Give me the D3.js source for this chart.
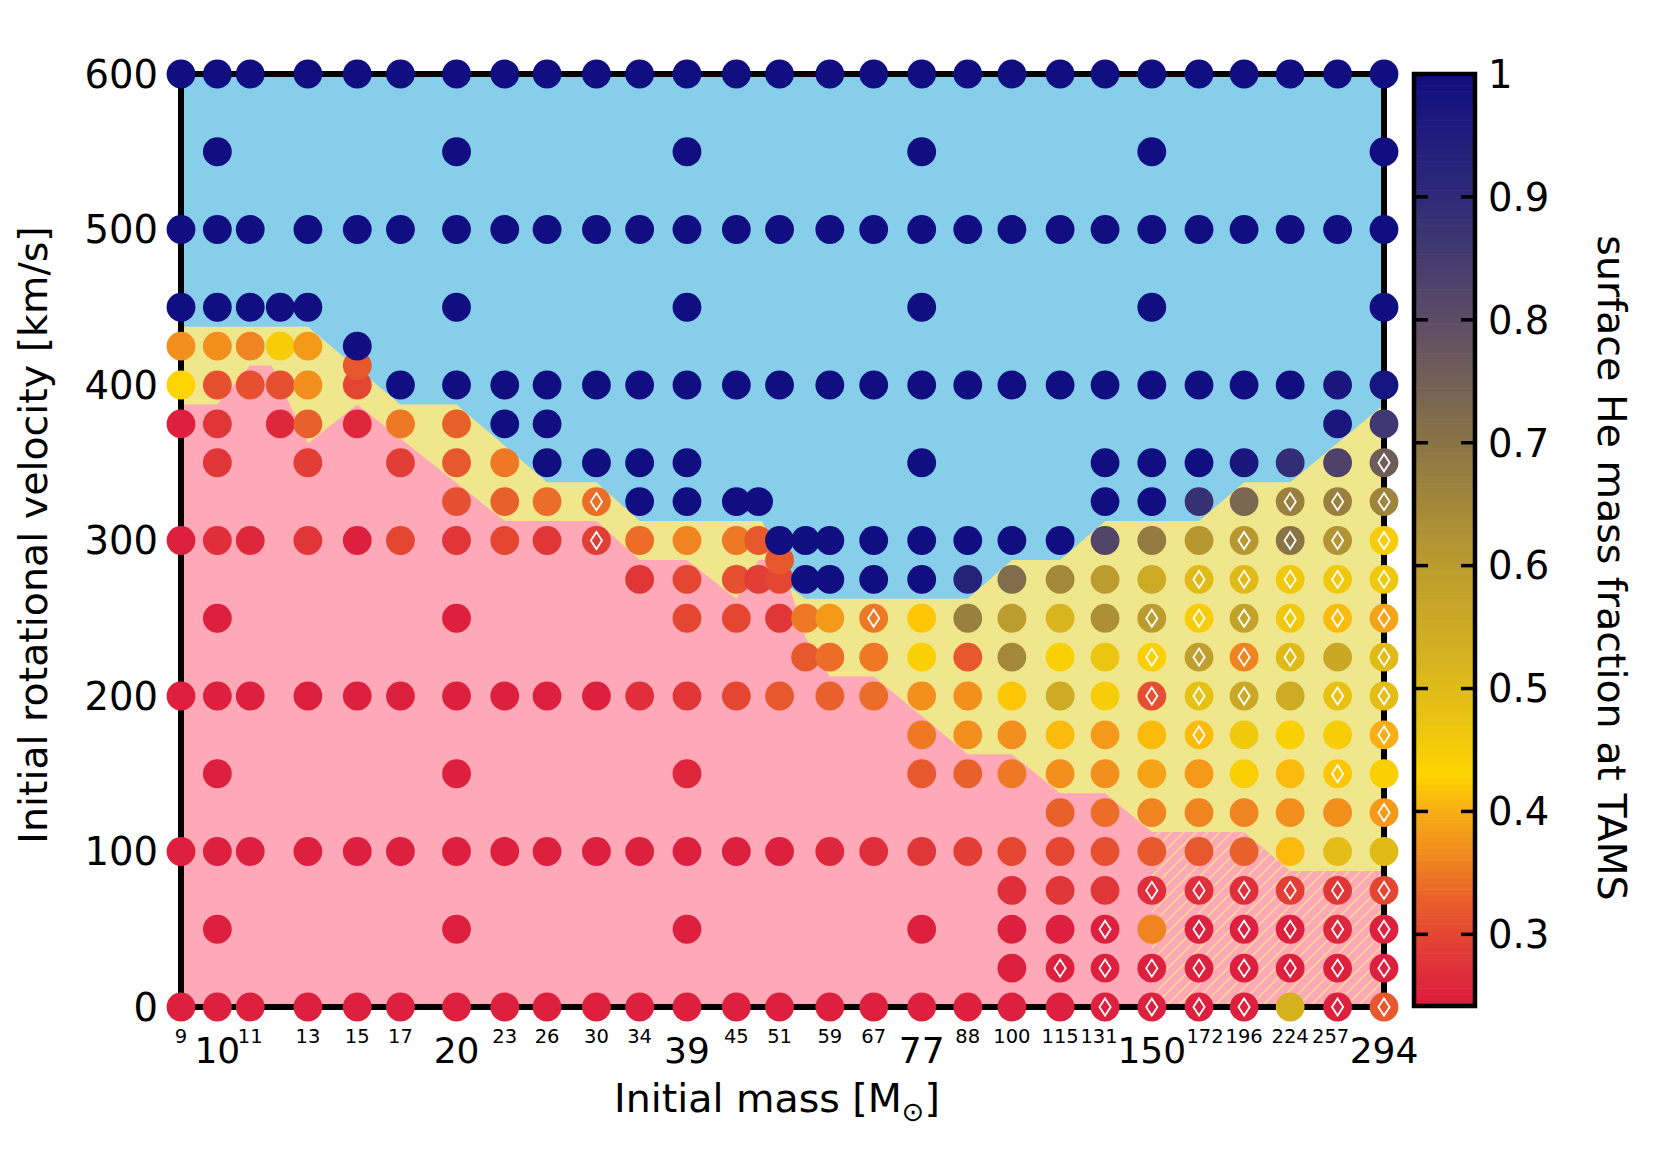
<!DOCTYPE html>
<html><head><meta charset="utf-8">
<script src="https://cdn.jsdelivr.net/npm/d3@7"></script>
<style>
body{margin:0;background:#fff}
svg{display:block}
text{font-family:"DejaVu Sans",sans-serif;fill:#000}
</style>
</head><body>
<svg id="chart" width="1661" height="1163"></svg>
<script>
// ---------------- data ----------------
const massMajorTicks = [10,20,39,77,150,294];
const massMinorTicks = [9,11,13,15,17,23,26,30,34,45,51,59,67,88,100,115,131,172,196,224,257];
const velocityTicks = [0,100,200,300,400,500,600];
const colorbarTicks = [0.3,0.4,0.5,0.6,0.7,0.8,0.9,1];
const colorbarTickLabels = ["0.3","0.4","0.5","0.6","0.7","0.8","0.9","1"];

// surface He mass fraction at TAMS, one array per initial velocity row: [mass, Y_He]
const he0   = [[9,.25],[10,.25],[11,.25],[13,.25],[15,.25],[17,.25],[20,.25],[23,.25],[26,.25],[30,.25],[34,.25],[39,.25],[45,.25],[51,.25],[59,.25],[67,.25],[77,.25],[88,.25],[100,.25],[115,.25],[131,.25],[150,.25],[172,.25],[196,.25],[224,.53],[257,.25],[294,.32]];
const he25  = [[100,.25],[115,.25],[131,.25],[150,.25],[172,.25],[196,.25],[224,.25],[257,.25],[294,.25]];
const he50  = [[10,.25],[20,.25],[39,.25],[77,.25],[100,.25],[115,.25],[131,.25],[150,.36],[172,.25],[196,.25],[224,.25],[257,.26],[294,.25]];
const he75  = [[100,.27],[115,.28],[131,.28],[150,.27],[172,.27],[196,.27],[224,.29],[257,.28],[294,.3]];
const he100 = [[9,.25],[10,.25],[11,.25],[13,.25],[15,.25],[17,.25],[20,.25],[23,.25],[26,.25],[30,.25],[34,.25],[39,.25],[45,.25],[51,.25],[59,.26],[67,.27],[77,.28],[88,.29],[100,.3],[115,.3],[131,.31],[150,.32],[172,.32],[196,.33],[224,.41],[257,.49],[294,.5]];
const he125 = [[115,.33],[131,.34],[150,.36],[172,.36],[196,.36],[224,.37],[257,.37],[294,.38]];
const he150 = [[10,.25],[20,.25],[39,.26],[77,.32],[88,.33],[100,.35],[115,.37],[131,.37],[150,.39],[172,.38],[196,.44],[224,.41],[257,.42],[294,.44]];
const he175 = [[77,.35],[88,.37],[100,.37],[115,.41],[131,.38],[150,.41],[172,.41],[196,.46],[224,.44],[257,.45],[294,.4]];
const he200 = [[9,.25],[10,.25],[11,.25],[13,.25],[15,.25],[17,.25],[20,.25],[23,.25],[26,.25],[30,.25],[34,.27],[39,.28],[45,.3],[51,.32],[59,.33],[67,.34],[77,.37],[88,.37],[100,.42],[115,.55],[131,.45],[150,.31],[172,.48],[196,.56],[224,.55],[257,.48],[294,.49]];
const he225 = [[55,.32],[59,.34],[67,.35],[77,.44],[88,.32],[100,.65],[115,.44],[131,.47],[150,.44],[172,.59],[196,.36],[224,.5],[257,.56],[294,.5]];
const he250 = [[10,.25],[20,.25],[39,.3],[45,.3],[51,.28],[55,.35],[59,.38],[67,.35],[77,.42],[88,.67],[100,.6],[115,.52],[131,.63],[150,.6],[172,.45],[196,.58],[224,.46],[257,.41],[294,.39]];
const he275 = [[34,.28],[39,.3],[45,.31],[48,.29],[51,.3],[55,1],[59,1],[67,1],[77,1],[88,.93],[100,.72],[115,.65],[131,.6],[150,.55],[172,.5],[196,.5],[224,.46],[257,.46],[294,.46]];
const he288 = [[51,.32]];
const he300 = [[9,.25],[10,.27],[11,.26],[13,.28],[15,.25],[17,.3],[20,.28],[23,.3],[26,.28],[30,.29],[34,.34],[39,.36],[45,.35],[48,.32],[51,1],[55,1],[59,1],[67,1],[77,1],[88,1],[100,1],[115,1],[131,.82],[150,.68],[172,.61],[196,.61],[224,.7],[257,.62],[294,.45]];
const he325 = [[20,.31],[23,.33],[26,.34],[30,.34],[34,1],[39,1],[45,1],[48,1],[131,1],[150,1],[172,.88],[196,.73],[224,.67],[257,.67],[294,.66]];
const he350 = [[10,.28],[13,.29],[17,.29],[20,.32],[23,.35],[26,1],[30,1],[34,1],[39,1],[77,1],[131,1],[150,1],[172,1],[196,.97],[224,.89],[257,.83],[294,.76]];
const he375 = [[9,.25],[10,.28],[12,.26],[13,.33],[15,.26],[17,.35],[20,.33],[23,1],[26,1],[257,.97],[294,.86]];
const he400 = [[9,.43],[10,.31],[11,.31],[12,.31],[13,.37],[15,.3],[17,1],[20,1],[23,1],[26,1],[30,1],[34,1],[39,1],[45,1],[51,1],[59,1],[67,1],[77,1],[88,1],[100,1],[115,1],[131,1],[150,1],[172,1],[196,1],[224,1],[257,.97],[294,.98]];
const he413 = [[15,.32]];
const he425 = [[9,.37],[10,.37],[11,.36],[12,.45],[13,.38],[15,1]];
const he450 = [[9,1],[10,1],[11,1],[12,1],[13,1],[20,1],[39,1],[77,1],[150,1],[294,1]];
const he500 = [[9,1],[10,1],[11,1],[13,1],[15,1],[17,1],[20,1],[23,1],[26,1],[30,1],[34,1],[39,1],[45,1],[51,1],[59,1],[67,1],[77,1],[88,1],[100,1],[115,1],[131,1],[150,1],[172,1],[196,1],[224,1],[257,1],[294,1]];
const he550 = [[10,1],[20,1],[39,1],[77,1],[150,1],[294,1]];
const he600 = [[9,1],[10,1],[11,1],[13,1],[15,1],[17,1],[20,1],[23,1],[26,1],[30,1],[34,1],[39,1],[45,1],[51,1],[59,1],[67,1],[77,1],[88,1],[100,1],[115,1],[131,1],[150,1],[172,1],[196,1],[224,1],[257,1],[294,1]];

const velocityRows = [
  [0,he0],[25,he25],[50,he50],[75,he75],[100,he100],[125,he125],[150,he150],[175,he175],
  [200,he200],[225,he225],[250,he250],[275,he275],[287.5,he288],[300,he300],[325,he325],
  [350,he350],[375,he375],[400,he400],[412.5,he413],[425,he425],[450,he450],[500,he500],
  [550,he550],[600,he600]
];

// models marked with a diamond: [mass, velocity]
const diamondModels = [
  [30,325],[30,300],[67,250],
  [294,350],[224,325],[257,325],[294,325],
  [196,300],[224,300],[257,300],[294,300],
  [172,275],[196,275],[224,275],[257,275],[294,275],
  [150,250],[172,250],[196,250],[224,250],[257,250],[294,250],
  [150,225],[172,225],[196,225],[224,225],[294,225],
  [150,200],[172,200],[196,200],[257,200],[294,200],
  [172,175],[294,175],[257,150],[294,125],
  [150,75],[172,75],[196,75],[224,75],[257,75],[294,75],
  [131,50],[172,50],[196,50],[224,50],[257,50],[294,50],
  [115,25],[131,25],[150,25],[172,25],[196,25],[224,25],[257,25],[294,25],
  [131,0],[150,0],[172,0],[196,0],[257,0],[294,0]
];

// region boundaries in data units [mass, velocity]
const blueRegion = [[9,600],[294,600],[294,387.5],[224,337.5],[196,337.5],[172,312.5],[131,312.5],[115,287.5],[100,287.5],[88,262.5],[55,262.5],[52.5,270],[48.5,312.5],[34,312.5],[30,337.5],[26,337.5],[20,387.5],[17,387.5],[13,437.5],[9,437.5]];
const pinkRegion = [[9,0],[9,387.5],[10,387.5],[11,412.5],[11.7,412.5],[13,362.5],[15,387.5],[23,312.5],[30,312.5],[34,287.5],[39,287.5],[45,262.5],[48,287.5],[50,287.5],[52.5,270],[55,237.5],[59,212.5],[67,212.5],[88,162.5],[100,162.5],[115,137.5],[131,137.5],[150,112.5],[196,112.5],[224,87.5],[294,87.5],[294,0]];
const hatchRegion = [[150,0],[150,112.5],[196,112.5],[224,87.5],[294,87.5],[294,0]];

// colormap stops for the surface He mass fraction
const cmapValues = [0.2417,0.27,0.30,0.33,0.36,0.40,0.43,0.47,0.52,0.60,0.70,0.80,0.90,1.00];
const cmapColors = ["#dc1a3e","#e02e3a","#e44632","#e9612a","#f08420","#f8ae14","#ffd400","#ecc510","#d8b41e","#bc9c2e","#8a7446","#5c4c66","#2e2a78","#100e80"];

// ---------------- drawing ----------------
const svg = d3.select("#chart");
const X0 = 181, X1 = 1384, Y0 = 1007, Y1 = 74;
const x = d3.scaleLog().domain([9,294]).range([X0,X1]);
const y = d3.scaleLinear().domain([0,600]).range([Y0,Y1]);
const color = d3.scaleLinear().domain(cmapValues).range(cmapColors).interpolate(d3.interpolateRgb).clamp(true);

const defs = svg.append("defs");
const pat = defs.append("pattern").attr("id","hatch").attr("patternUnits","userSpaceOnUse")
  .attr("width",12).attr("height",12);
pat.append("rect").attr("width",12).attr("height",12).attr("fill","#ffa8b8");
pat.append("path").attr("d","M-3,3L3,-3M0,12L12,0M9,15L15,9")
  .attr("stroke","#f2e28c").attr("stroke-width",1.4);
defs.append("clipPath").attr("id","plotclip").append("rect")
  .attr("x",X0).attr("y",Y1).attr("width",X1-X0).attr("height",Y0-Y1);

const line = d3.line().x(d=>x(d[0])).y(d=>y(d[1]));
const bg = svg.append("g").attr("clip-path","url(#plotclip)");
bg.append("rect").attr("x",X0).attr("y",Y1).attr("width",X1-X0).attr("height",Y0-Y1).attr("fill","#f0e68c");
bg.append("path").attr("d",line(pinkRegion)+"Z").attr("fill","#ffa8b8");
bg.append("path").attr("d",line(hatchRegion)+"Z").attr("fill","url(#hatch)");
bg.append("path").attr("d",line(blueRegion)+"Z").attr("fill","#87ceeb");

// frame
svg.append("rect").attr("x",X0).attr("y",Y1).attr("width",X1-X0).attr("height",Y0-Y1)
  .attr("fill","none").attr("stroke","#000").attr("stroke-width",6);

// dots
const points = [];
velocityRows.forEach(([v,row]) => row.forEach(([m,h]) => points.push({m,v,h})));
svg.append("g").selectAll("circle").data(points).join("circle")
  .attr("cx",d=>x(d.m)).attr("cy",d=>y(d.v)).attr("r",14.4).attr("fill",d=>color(d.h));

svg.append("g").selectAll("path").data(diamondModels).join("path")
  .attr("d",d=>{const cx=x(d[0]), cy=y(d[1]); return `M${cx},${cy-8.6}L${cx+5.6},${cy}L${cx},${cy+8.6}L${cx-5.6},${cy}Z`;})
  .attr("fill","none").attr("stroke","#fff").attr("stroke-width",1.8);

// y tick labels
svg.append("g").selectAll("text").data(velocityTicks).join("text")
  .attr("x",158).attr("y",d=>y(d)).attr("dy","0.36em").attr("text-anchor","end")
  .attr("font-size",38.5).text(d=>d);

// x tick labels (a few small labels nudged so they do not collide with the large ones)
const minorNudge = {131:-6, 172:6, 257:-7};
svg.append("g").selectAll("text").data(massMinorTicks).join("text")
  .attr("x",d=>x(d)+(minorNudge[d]||0)).attr("y",1043).attr("text-anchor","middle").attr("font-size",19.5).text(d=>d);
svg.append("g").selectAll("text").data(massMajorTicks).join("text")
  .attr("x",d=>x(d)).attr("y",1063).attr("text-anchor","middle").attr("font-size",36).text(d=>d);

// axis labels
svg.append("text").attr("transform","translate(33,535) rotate(-90)")
  .attr("text-anchor","middle").attr("dy","0.36em").attr("font-size",39.5)
  .text("Initial rotational velocity [km/s]");
const xl = svg.append("text").attr("x",777).attr("y",1112).attr("text-anchor","middle").attr("font-size",39.5);
xl.append("tspan").text("Initial mass [M");
xl.append("tspan").attr("font-size",27).attr("dy",9).text("\u2299");
xl.append("tspan").attr("dy",-9).text("]");

// colorbar
const CB0 = 1414, CB1 = 1475;
const cy = d3.scaleLinear().domain([0.2417,1]).range([1006,74]);
const bands = d3.range(0,160).map(i => 0.2417 + (1-0.2417)*(i+0.5)/160);
const bandH = (1006-74)/160;
svg.append("g").selectAll("rect").data(bands).join("rect")
  .attr("x",CB0).attr("width",CB1-CB0).attr("y",d=>cy(d)-bandH/2-0.3).attr("height",bandH+0.6)
  .attr("fill",d=>color(d));
svg.append("rect").attr("x",CB0).attr("y",74).attr("width",CB1-CB0).attr("height",1006-74)
  .attr("fill","none").attr("stroke","#000").attr("stroke-width",4.5);
const tk = svg.append("g");
tk.selectAll("line.l").data(colorbarTicks).join("line").attr("class","l")
  .attr("x1",CB0).attr("x2",CB0+14).attr("y1",d=>cy(d)).attr("y2",d=>cy(d)).attr("stroke","#000").attr("stroke-width",3.5);
tk.selectAll("line.r").data(colorbarTicks).join("line").attr("class","r")
  .attr("x1",CB1-14).attr("x2",CB1).attr("y1",d=>cy(d)).attr("y2",d=>cy(d)).attr("stroke","#000").attr("stroke-width",3.5);
svg.append("g").selectAll("text").data(colorbarTicks).join("text")
  .attr("x",1488).attr("y",d=>cy(d)).attr("dy","0.36em").attr("font-size",38.5)
  .text((d,i)=>colorbarTickLabels[i]);
svg.append("text").attr("transform","translate(1612,568) rotate(90)")
  .attr("text-anchor","middle").attr("dy","0.36em").attr("font-size",39.5)
  .text("surface He mass fraction at TAMS");
</script>
</body></html>
